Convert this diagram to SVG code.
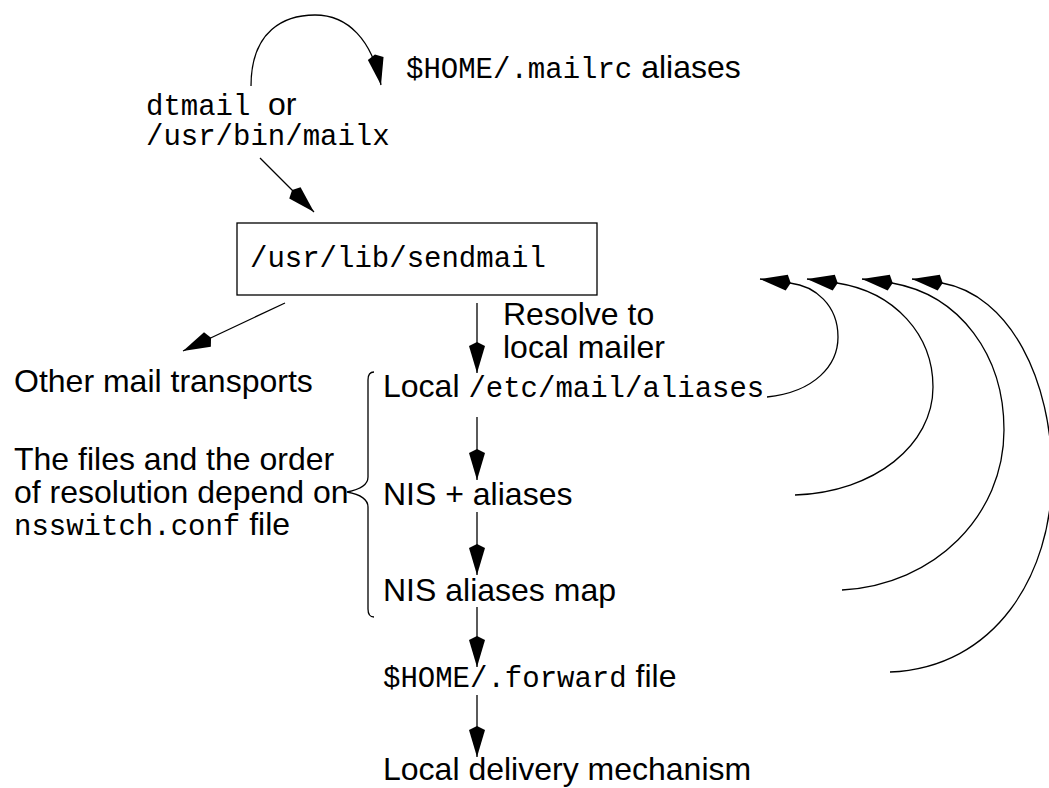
<svg xmlns="http://www.w3.org/2000/svg" width="1049" height="788" viewBox="0 0 1049 788">
<style>
.s{font-family:"Liberation Sans",Arial,sans-serif;font-size:32px;fill:#000}
.m{font-family:"Courier New","Liberation Mono",monospace;font-size:29px;fill:#000}
.ln{fill:none;stroke:#000;stroke-width:1.3}
.box{fill:#fff;stroke:#000;stroke-width:1.3}
marker{overflow:visible}
</style>
<defs>
<marker id="ah" markerUnits="userSpaceOnUse" refX="0" refY="0" markerWidth="34" markerHeight="18" orient="auto" overflow="visible">
<path d="M0,0 L-27,-8 L-31,0 L-27,8 Z" fill="#000"/>
</marker>
</defs>
<rect width="1049" height="788" fill="#fff"/>
<g id="connectors">
<path class="ln" d="M251 86 C251 30 285 15 315 15 C348 15 372 40 381 85" marker-end="url(#ah)"/>
<path class="ln" d="M260 158 L314 212" marker-end="url(#ah)"/>
<path class="ln" d="M285 303 L183 351" marker-end="url(#ah)"/>
<path class="ln" d="M477 303 L477 373" marker-end="url(#ah)"/>
<path class="ln" d="M477 417 L477 480" marker-end="url(#ah)"/>
<path class="ln" d="M477 512 L477 575" marker-end="url(#ah)"/>
<path class="ln" d="M477 607 L477 667" marker-end="url(#ah)"/>
<path class="ln" d="M477 695 L477 757" marker-end="url(#ah)"/>
<path class="ln" d="M767 397 C815 392 838 365 838 337 C838 305 815 286 790 283 L760 279" marker-end="url(#ah)"/>
<path class="ln" d="M795 495 C875 492 933 445 933 387 C933 335 895 292 837 283 L807 279" marker-end="url(#ah)"/>
<path class="ln" d="M842 590 C935 585 1004 515 1004 430 C1004 355 960 295 892 283 L862 279" marker-end="url(#ah)"/>
<path class="ln" d="M890 672 C995 668 1052 575 1052 475 C1052 380 1010 295 942 283 L912 279" marker-end="url(#ah)"/>
</g>
<g id="mailclient">
<text x="146" y="115"><tspan class="m">dtmail</tspan><tspan class="s" x="268">or</tspan></text>
<text class="m" x="146" y="145">/usr/bin/mailx</text>
</g>
<g id="mailrc">
<text x="406" y="78"><tspan class="m">$HOME/.mailrc</tspan><tspan class="s"> aliases</tspan></text>
</g>
<g id="sendmail">
<rect class="box" x="237" y="223" width="360" height="72"/>
<text class="m" x="250" y="267">/usr/lib/sendmail</text>
</g>
<g id="resolve">
<text class="s" x="503" y="325">Resolve to</text>
<text class="s" x="503" y="358">local mailer</text>
</g>
<g id="other">
<text class="s" x="14" y="392">Other mail transports</text>
</g>
<g id="note">
<text class="s" x="14" y="470">The files and the order</text>
<text class="s" x="14" y="503">of resolution depend on</text>
<text x="14" y="535"><tspan class="m">nsswitch.conf</tspan><tspan class="s"> file</tspan></text>
<path class="ln" d="M374 372 Q368 372 368 380 L368 477 Q368 488 347 492 Q368 496 368 507 L368 609 Q368 617 374 617"/>
</g>
<g id="localaliases">
<text x="383" y="397"><tspan class="s">Local </tspan><tspan class="m">/etc/mail/aliases</tspan></text>
</g>
<g id="nisplus">
<text class="s" x="383" y="505">NIS + aliases</text>
</g>
<g id="nismap">
<text class="s" x="383" y="601">NIS aliases map</text>
</g>
<g id="forward">
<text x="383" y="687"><tspan class="m">$HOME/.forward</tspan><tspan class="s"> file</tspan></text>
</g>
<g id="delivery">
<text class="s" x="383" y="780">Local delivery mechanism</text>
</g>
</svg>
